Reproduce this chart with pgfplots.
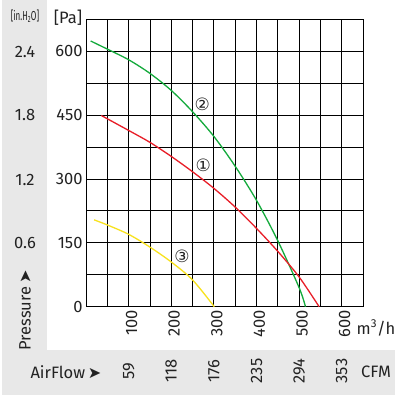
\documentclass[border=0pt]{standalone}
\usepackage{pgfplots}
\pgfplotsset{compat=1.18}
\usepackage{fontspec}
\setmainfont{Fira Sans}
\newfontfamily\dejavu{DejaVu Sans}
\definecolor{panel}{RGB}{232,232,232}
\definecolor{txt}{RGB}{34,34,34}
\definecolor{cgreen}{RGB}{20,170,60}
\definecolor{cred}{RGB}{232,30,40}
\definecolor{cyellow}{RGB}{248,226,30}
\begin{document}
\begin{tikzpicture}[x=1pt,y=1pt]
\useasboundingbox (0,0) rectangle (399,398);
\fill[white] (0,0) rectangle (399,398);
\fill[panel] (2,48) rectangle (47,398);
\fill[panel] (2,3) rectangle (395,48);
\begin{axis}[
  at={(86pt,91.3pt)}, anchor=south west,
  scale only axis, width=277pt, height=287.4pt,
  xmin=0, xmax=650, ymin=0, ymax=675,
  xtick={0,50,...,650},
  xticklabels={,,100,,200,,300,,400,,500,,600,},
  ytick={0,75,...,675},
  yticklabels={0,,150,,300,,450,,600,},
  major tick length=0pt,
  grid=major,
  grid style={black, line width=0.8pt},
  axis line style={black, line width=0.8pt},
  /pgf/number format/assume math mode=true,
  ticklabel style={font=\fontsize{16.5}{19}\selectfont, text=txt},
  xticklabel style={rotate=90, anchor=east, yshift=-3pt},
  yticklabel style={anchor=east},
  clip=false,
]
\addplot[cgreen, line width=1.3pt, smooth] coordinates {
 (11,624) (50,605) (100,580) (150,548) (200,508) (250,458) (300,400) (350,330) (400,250) (450,155) (500,45) (515,0)};
\addplot[cred, line width=1.3pt, smooth] coordinates {
 (36,449) (100,414) (150,386) (200,353) (250,317) (300,278) (350,234) (400,184) (450,130) (500,70) (547,0)};
\addplot[cyellow, line width=1.3pt, smooth] coordinates {
 (19,204) (50,192) (100,170) (150,140) (200,105) (250,63) (301,0)};
\node[font=\dejavu\fontsize{17}{19}\selectfont, text=txt] at (axis cs:273,476) {②};
\node[font=\dejavu\fontsize{17}{19}\selectfont, text=txt] at (axis cs:275,333) {①};
\node[font=\dejavu\fontsize{17}{19}\selectfont, text=txt] at (axis cs:225,119) {③};
\end{axis}
\begin{scope}[every node/.style={text=txt, font=\fontsize{16.5}{19}\selectfont}]
\node at (25,346) {2.4};
\node at (25,283) {1.8};
\node at (25,218) {1.2};
\node at (25,155) {0.6};
\node[xscale=0.62, font=\fontsize{13}{15}\selectfont] at (25,382) {[in.H\textsubscript{2}O]};
\node at (68,380) {[Pa]};
\node at (376,70) {m\textsuperscript{3}/h};
\node at (376,26) {CFM};
\node[anchor=west] at (27,26) {AirFlow\,{\dejavu\fontsize{16}{18}\selectfont ➤}};
\node[rotate=90, anchor=west] at (25,44) {Pressure\,{\dejavu\fontsize{16}{18}\selectfont ➤}};
\node[rotate=90] at (128.6,27) {59};
\node[rotate=90] at (171.2,27) {118};
\node[rotate=90] at (213.8,27) {176};
\node[rotate=90] at (256.5,27) {235};
\node[rotate=90] at (299.1,27) {294};
\node[rotate=90] at (341.7,27) {353};
\end{scope}
\end{tikzpicture}
\end{document}
